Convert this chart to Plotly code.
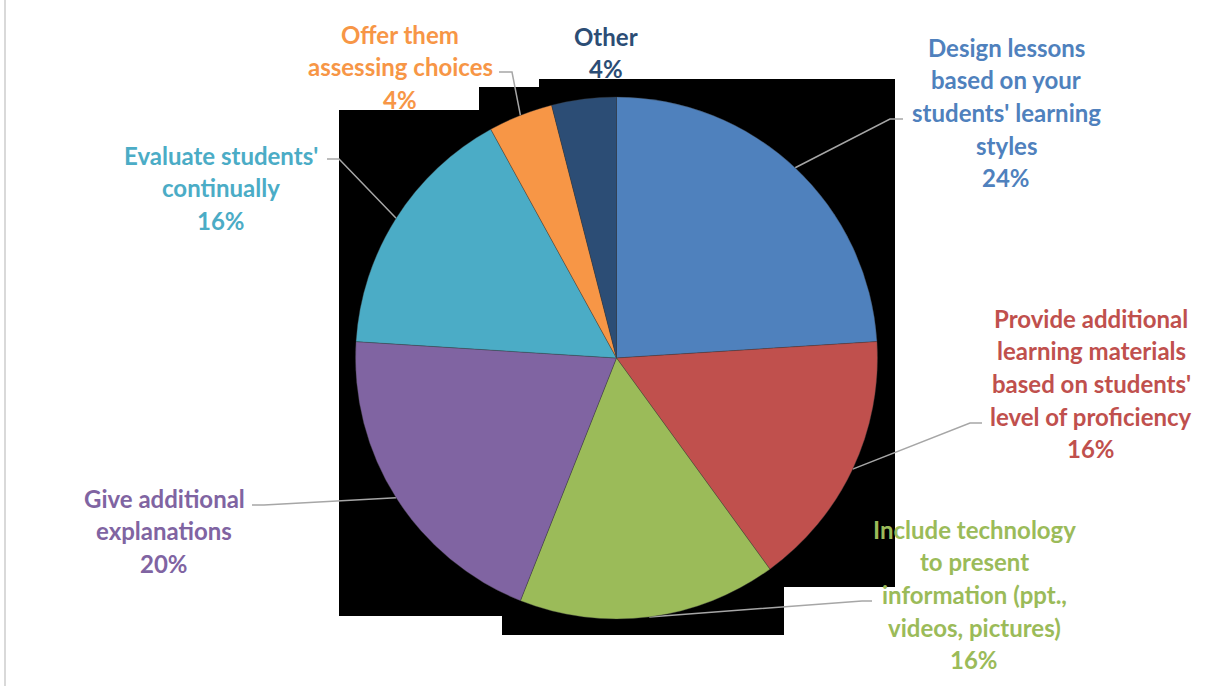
import math
import plotly.graph_objects as go

# ---- data -------------------------------------------------------------
categories = [
    "Design lessons based on your students' learning styles",
    "Provide additional learning materials based on students' level of proficiency",
    "Include technology to present information (ppt., videos, pictures)",
    "Give additional explanations",
    "Evaluate students' continually",
    "Offer them assessing choices",
    "Other",
]
values = [24, 16, 16, 20, 16, 4, 4]
label_lines = [
    ["Design lessons", "based on your", "students' learning", "styles"],
    ["Provide additional", "learning materials", "based on students'", "level of proficiency"],
    ["Include technology", "to present", "information (ppt.,", "videos, pictures)"],
    ["Give additional", "explanations"],
    ["Evaluate students'", "continually"],
    ["Offer them", "assessing choices"],
    ["Other"],
]
colors = ["#4F81BD", "#C0504D", "#9BBB59", "#8064A2", "#4BACC6", "#F79646", "#2C4D75"]

# ---- layout (pixel units, origin top-left) -----------------------------
W, H = 1227, 686
PIE_LEFT, PIE_RIGHT, PIE_TOP, PIE_BOTTOM = 355, 878, 97, 619
CX = (PIE_LEFT + PIE_RIGHT) / 2
CY = (PIE_TOP + PIE_BOTTOM) / 2
R = min(PIE_RIGHT - PIE_LEFT, PIE_BOTTOM - PIE_TOP) / 2

# label block: centre x, first line y, leader (text end x, elbow x, y) or None
label_pos = [
    dict(x=1006, y=47, leader=(903, 890, 119)),
    dict(x=1091, y=318, leader=(982, 970, 423)),
    dict(x=974, y=529, leader=(872, 862, 601)),
    dict(x=164, y=498, leader=(252, 264, 505)),
    dict(x=221, y=155, leader=(327, 339, 159)),
    dict(x=400, y=34, leader=(499, 512, 72)),
    dict(x=606, y=36, leader=None),
]
LINE_STEP = 32.7
FONT = "Lato"
FONT_SIZE = 24

# dark backdrop blocks behind the pie (x0, x1, y0, y1)
backdrop = [
    (339, 479, 110, 616),
    (479, 502, 87, 616),
    (502, 539, 87, 635),
    (539, 784, 79, 635),
    (784, 895, 79, 587),
]

fig = go.Figure()

for x0, x1, y0, y1 in backdrop:
    fig.add_trace(go.Scatter(
        x=[x0, x1, x1, x0, x0], y=[y0, y0, y1, y1, y0],
        mode="lines", fill="toself", fillcolor="black",
        line=dict(width=0, color="black"), hoverinfo="skip", showlegend=False,
    ))

total = sum(values)
cum = 0.0
annotations = []
for i, v in enumerate(values):
    mid = (cum + v / 2) / total * 360.0
    cum += v
    pos = label_pos[i]
    col = colors[i]
    pct = f"{round(v / total * 100)}%"
    lines = label_lines[i] + [pct]
    for k, txt in enumerate(lines):
        annotations.append(dict(
            x=pos["x"], y=pos["y"] + k * LINE_STEP, xref="x", yref="y",
            text=txt, showarrow=False, xanchor="center", yanchor="middle",
            font=dict(family=FONT, size=FONT_SIZE, color=col, weight="bold"),
        ))
    if pos["leader"] is not None:
        tx, ex, ly = pos["leader"]
        px = CX + R * math.sin(math.radians(mid))
        py = CY - R * math.cos(math.radians(mid))
        fig.add_trace(go.Scatter(
            x=[tx, ex, px], y=[ly, ly, py], mode="lines",
            line=dict(color="#A6A6A6", width=1.5), hoverinfo="skip", showlegend=False,
        ))

fig.add_trace(go.Pie(
    labels=categories, values=values, sort=False, direction="clockwise",
    rotation=0, textinfo="none", hoverinfo="label+percent",
    marker=dict(colors=colors, line=dict(width=0.6, color="rgba(60,60,60,0.6)")),
    domain=dict(x=[PIE_LEFT / W, PIE_RIGHT / W], y=[1 - PIE_BOTTOM / H, 1 - PIE_TOP / H]),
    showlegend=False,
))

fig.update_layout(
    width=W, height=H, margin=dict(l=0, r=0, t=0, b=0),
    paper_bgcolor="white", plot_bgcolor="rgba(0,0,0,0)",
    xaxis=dict(range=[0, W], visible=False, fixedrange=True),
    yaxis=dict(range=[H, 0], visible=False, fixedrange=True),
    annotations=annotations,
    shapes=[dict(type="line", xref="x", yref="y", x0=5, x1=5, y0=0, y1=H,
                 line=dict(color="#D9D9D9", width=2))],
)

fig.write_html("out.html")
